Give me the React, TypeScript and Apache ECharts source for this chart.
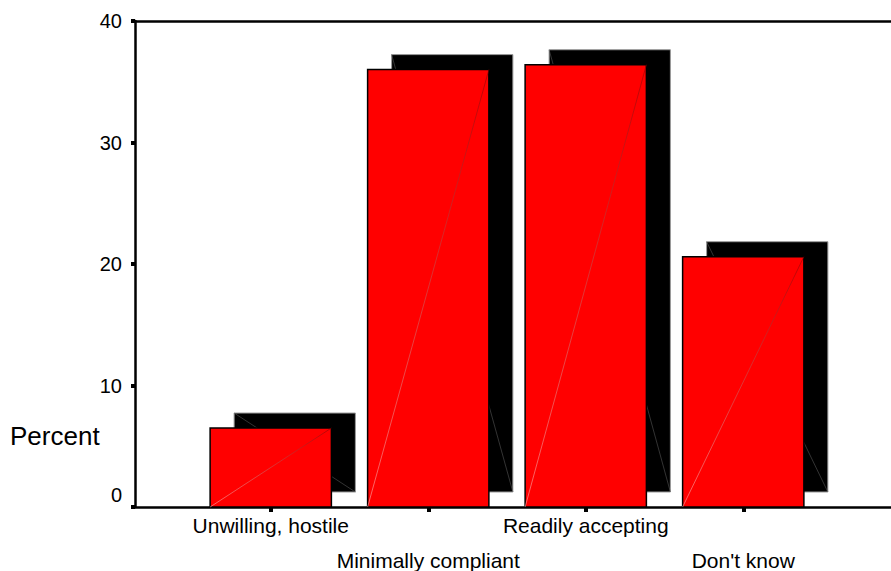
import React, { useEffect, useRef } from "react";
import * as echarts from "echarts";

// Attitude categories and their share of respondents (%)
const categories = [
  "Unwilling, hostile",
  "Minimally compliant",
  "Readily accepting",
  "Don't know",
];
const percentValues = [6.5, 36.0, 36.4, 20.6];
const yTicks = [0, 10, 20, 30, 40];

const FONT = '"Liberation Sans", Arial, Helvetica, sans-serif';
// bar width as a share of the category band, and the drop-shadow offset in pixels
const BAR_WIDTH = 0.77;
const SHADOW_DX = 24;
const SHADOW_DY = 15;

export default function App() {
  const ref = useRef<HTMLDivElement>(null);

  useEffect(() => {
    if (!ref.current) return;
    const chart = echarts.init(ref.current, undefined, { renderer: "svg" });
    const yMin = yTicks[0];
    const yMax = yTicks[yTicks.length - 1];

    const renderBar = (_params: any, api: any) => {
      const x = api.value(0);
      const v = api.value(1);
      const base = api.coord([x, 0]);
      const top = api.coord([x, v]);
      const w = api.size([1, 0])[0] * BAR_WIDTH;
      const left = base[0] - w / 2;
      const h = base[1] - top[1];
      return {
        type: "group",
        children: [
          {
            type: "rect",
            shape: { x: left + SHADOW_DX, y: top[1] - SHADOW_DY, width: w, height: h },
            style: { fill: "#000000", stroke: "#9a9a9a", lineWidth: 1 },
          },
          {
            type: "line",
            shape: {
              x1: left + SHADOW_DX,
              y1: top[1] - SHADOW_DY,
              x2: left + SHADOW_DX + w,
              y2: base[1] - SHADOW_DY,
            },
            style: { stroke: "#555555", lineWidth: 0.6 },
          },
          {
            type: "rect",
            shape: { x: left, y: top[1], width: w, height: h },
            style: { fill: "#ff0000", stroke: "#000000", lineWidth: 1.5 },
          },
          {
            type: "line",
            shape: { x1: left, y1: base[1], x2: left + w, y2: top[1] },
            style: {
              stroke: new echarts.graphic.LinearGradient(0, 1, 1, 0, [
                { offset: 0, color: "#ffb0b0" },
                { offset: 1, color: "#900000" },
              ]),
              lineWidth: 0.6,
            },
          },
        ],
      };
    };

    chart.setOption({
      animation: false,
      backgroundColor: "#ffffff",
      grid: [
        // frame: left axis, baseline and top rule
        { left: 135, right: 0, top: 21, bottom: 64, containLabel: false, outerBoundsMode: "none" },
        // category bands holding the bars
        { left: 192, right: 69, top: 21, bottom: 64, containLabel: false, outerBoundsMode: "none" },
      ],
      xAxis: [
        {
          type: "value",
          gridIndex: 0,
          min: 0,
          max: 1,
          splitLine: { show: false },
          axisLine: { show: true, lineStyle: { color: "#000", width: 2.5 } },
          axisTick: { show: false },
          axisLabel: { show: false },
        },
        {
          type: "value",
          gridIndex: 0,
          position: "top",
          min: 0,
          max: 1,
          splitLine: { show: false },
          axisLine: { show: true, lineStyle: { color: "#000", width: 2.5 } },
          axisTick: { show: false },
          axisLabel: { show: false },
        },
        {
          type: "category",
          gridIndex: 1,
          data: categories,
          boundaryGap: true,
          axisLine: { show: false },
          axisTick: {
            show: true,
            alignWithLabel: true,
            interval: 0,
            length: 5,
            lineStyle: { color: "#000", width: 4 },
          },
          axisLabel: {
            interval: 0,
            margin: 1,
            color: "#000",
            fontFamily: FONT,
            fontSize: 21,
            lineHeight: 35,
            formatter: (value: string, index: number) =>
              index % 2 === 1 ? "\n" + value : value,
          },
        },
      ],
      yAxis: [
        {
          type: "value",
          gridIndex: 0,
          min: yMin,
          max: yMax,
          interval: 10,
          splitLine: { show: false },
          axisLine: { show: true, lineStyle: { color: "#000", width: 2.5 } },
          axisTick: { show: true, length: 4, lineStyle: { color: "#000", width: 4 } },
          axisLabel: {
            margin: 13,
            color: "#000",
            fontFamily: FONT,
            fontSize: 20,
            formatter: (v: number) => (v === 0 ? "{z|0}" : String(v)),
            rich: {
              z: { fontFamily: FONT, fontSize: 20, color: "#000", padding: [0, 0, 24, 0] },
            },
          },
        },
        {
          type: "value",
          gridIndex: 1,
          min: yMin,
          max: yMax,
          interval: 10,
          show: false,
          splitLine: { show: false },
        },
      ],
      graphic: [
        {
          type: "text",
          x: 10,
          y: 436,
          style: {
            text: "Percent",
            fontFamily: FONT,
            fontSize: 26,
            fill: "#000",
            verticalAlign: "middle",
          },
        },
      ],
      series: [
        {
          type: "custom",
          xAxisIndex: 2,
          yAxisIndex: 1,
          renderItem: renderBar,
          data: percentValues.map((v, i) => [i, v]),
          encode: { x: 0, y: 1 },
          clip: false,
        },
      ],
    });

    return () => chart.dispose();
  }, []);

  return (
    <div
      ref={ref}
      style={{ position: "fixed", left: 0, top: 0, width: 891, height: 571 }}
    />
  );
}
